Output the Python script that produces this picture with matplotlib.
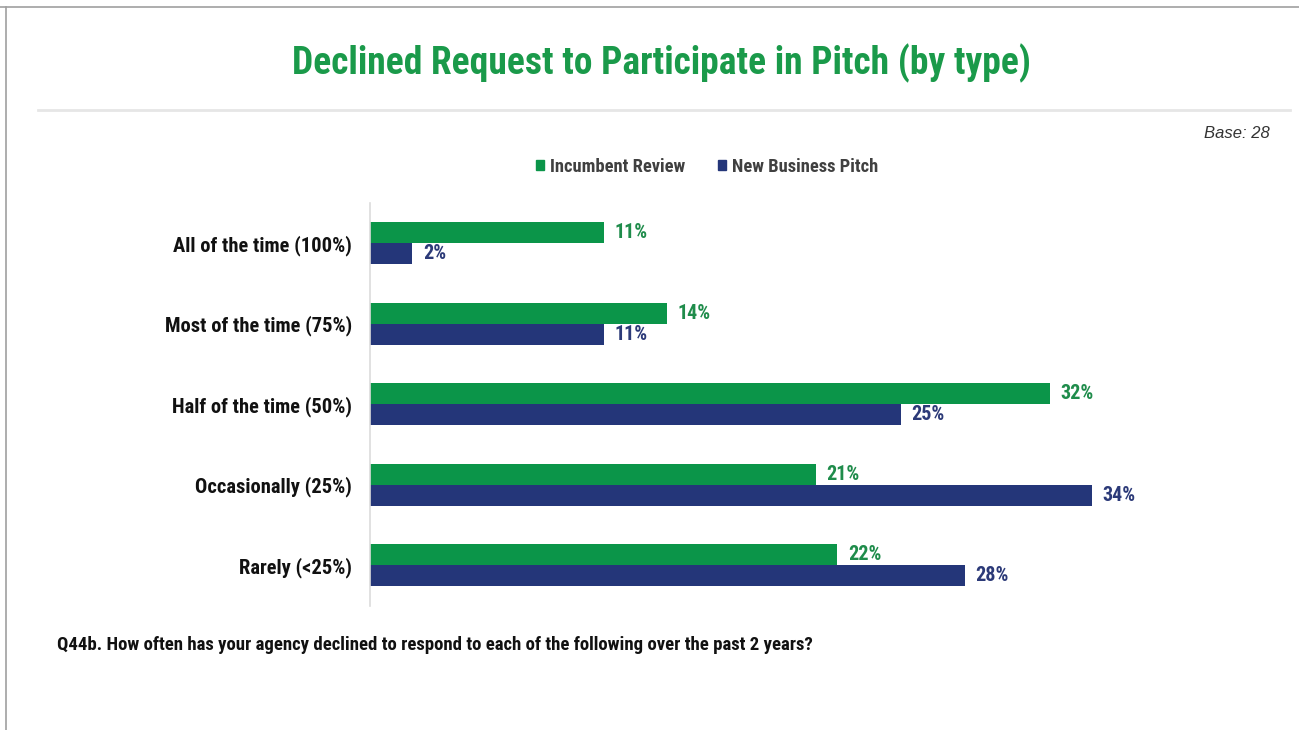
import matplotlib
matplotlib.use("Agg")
import matplotlib.pyplot as plt
from matplotlib.lines import Line2D
from matplotlib.patches import Patch
import numpy as np

# survey answers, top to bottom
categories = ["All of the time (100%)", "Most of the time (75%)",
              "Half of the time (50%)", "Occasionally (25%)", "Rarely (<25%)"]
incumbent = [11, 14, 32, 21, 22]
new_business = [2, 11, 25, 34, 28]
series_names = ["Incumbent Review", "New Business Pitch"]

GREEN = "#0b9549"
BLUE = "#243679"
GREEN_TXT = "#1f8c4b"
BLUE_TXT = "#2c3a78"

# narrow sans for the slide text, falling back to Liberation Sans
NARROW = ["Liberation Sans Narrow", "Arial Narrow", "Roboto Condensed",
          "PT Sans Narrow", "Archivo Narrow", "Liberation Sans"]

fig = plt.figure(figsize=(12.99, 7.30), dpi=100)
W, H = 1299, 730

# frame around the slide
fig.add_artist(Line2D([0, 1], [1 - 7 / H, 1 - 7 / H], transform=fig.transFigure,
                      color="#a0a0a0", lw=1.2))
fig.add_artist(Line2D([6 / W, 6 / W], [0, 1 - 7 / H], transform=fig.transFigure,
                      color="#a0a0a0", lw=1.2))
fig.add_artist(Line2D([38 / W, 1290 / W], [1 - 110 / H, 1 - 110 / H],
                      transform=fig.transFigure, color="#e6e6e6", lw=2))

fig.text(661 / W, 1 - 63 / H, "Declined Request to Participate in Pitch (by type)",
         ha="center", va="center", fontsize=27, fontweight="bold",
         color="#1a9a4a", family=NARROW)
fig.text(1270 / W, 1 - 134 / H, "Base: 28", ha="right", va="center",
         fontsize=12, style="italic", color="#333333", family="Liberation Sans")
fig.text(57 / W, 1 - 645 / H,
         "Q44b. How often has your agency declined to respond to each of the following over the past 2 years?",
         ha="left", va="center", fontsize=13.5, fontweight="bold",
         color="#111111", family=NARROW)

ax = fig.add_axes([370 / W, 1 - 605.5 / H, 849.6 / W, 402.5 / H])
y = np.arange(len(categories))
h = 0.26
ax.barh(y - h / 2, incumbent, height=h, color=GREEN, label=series_names[0])
ax.barh(y + h / 2, new_business, height=h, color=BLUE, label=series_names[1])

for yi, v in zip(y, incumbent):
    ax.text(v + 0.5, yi - h / 2, f"{v}%", va="center", ha="left",
            fontsize=14.5, fontweight="bold", color=GREEN_TXT, family=NARROW)
for yi, v in zip(y, new_business):
    ax.text(v + 0.5, yi + h / 2, f"{v}%", va="center", ha="left",
            fontsize=14.5, fontweight="bold", color=BLUE_TXT, family=NARROW)

ax.set_xlim(0, 40)
ax.set_ylim(len(categories) - 0.5, -0.5)
ax.set_yticks(y)
ax.set_yticklabels(categories, fontsize=14.8, fontweight="bold",
                   color="#111111", family=NARROW)
ax.tick_params(axis="y", length=0, pad=13)
ax.set_xticks([])
for side in ["top", "right", "bottom"]:
    ax.spines[side].set_visible(False)
ax.spines["left"].set_color("#dcdcdc")
ax.spines["left"].set_linewidth(1.2)

handles = [Patch(color=GREEN), Patch(color=BLUE)]
leg = fig.legend(handles, series_names, loc="center", ncol=2,
                 bbox_to_anchor=(707 / W, 1 - 167 / H), frameon=False,
                 handlelength=0.45, handleheight=0.45, handletextpad=0.3,
                 columnspacing=1.8,
                 prop={"family": NARROW, "weight": "bold", "size": 13.3})
for t in leg.get_texts():
    t.set_color("#404040")

fig.savefig("out.png", dpi=100)
